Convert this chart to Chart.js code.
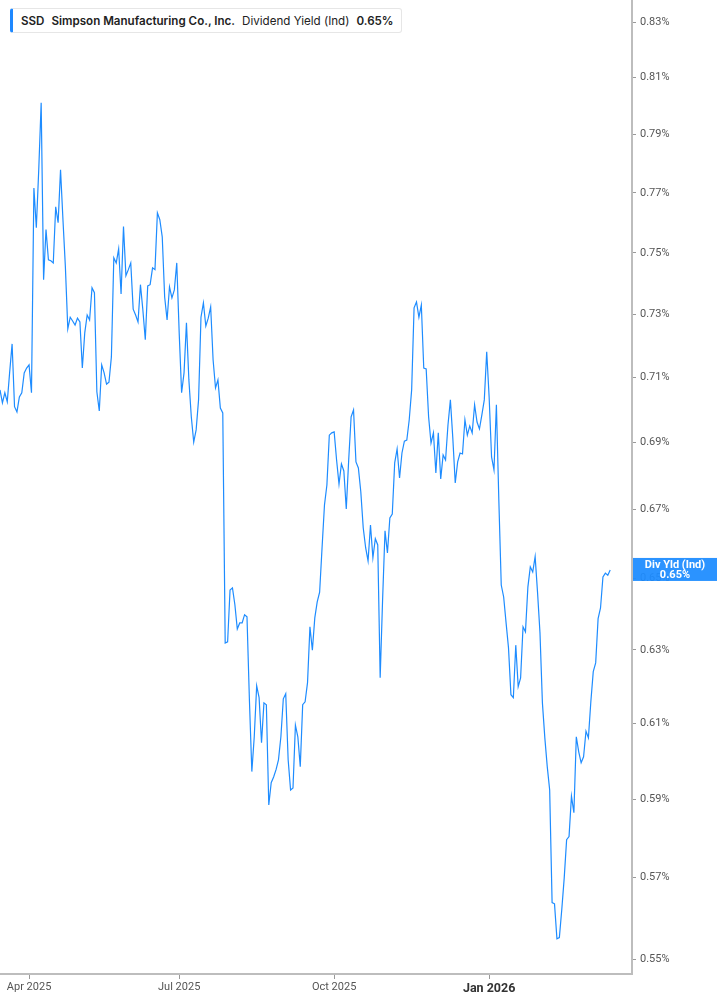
<!DOCTYPE html>
<html>
<head>
<meta charset="utf-8">
<script src="https://cdn.jsdelivr.net/npm/chart.js@4"></script>
<style>
  html, body { margin: 0; padding: 0; background: #fff; }
  #wrap { position: relative; width: 717px; height: 1005px; }
  #legend {
    position: absolute; left: 10px; top: 8px; height: 25px;
    padding: 0 7px 0 8px; box-sizing: border-box;
    border: 1px solid #e6e6e6; border-left: 3px solid #1e88ff; border-radius: 3px;
    background: #fff; font-family: Inter, "Noto Sans", sans-serif; font-size: 11.6px;
    color: #222; display: flex; align-items: center; white-space: nowrap;
  }
  #legend b { font-weight: 600; }
  #legend span { margin-right: 7px; }
</style>
</head>
<body>
<div id="wrap">
  <canvas id="chart"></canvas>
  <div id="legend">
    <span><b>SSD</b></span>
    <span><b>Simpson Manufacturing Co., Inc.</b></span>
    <span>Dividend Yield (Ind)</span>
    <b>0.65%</b>
  </div>
</div>
<script>
// dividend yield (%) per trading day, mid Mar 2025 -> early Mar 2026
const yieldValues = [
  0.7062, 0.7022, 0.7053, 0.7025, 0.7118, 0.7206, 0.7010, 0.6994, 0.7040, 0.7053,
  0.7115, 0.7130, 0.7140, 0.7053, 0.7717, 0.7583, 0.7779, 0.8011, 0.7412, 0.7577,
  0.7477, 0.7474, 0.7467, 0.7653, 0.7600, 0.7779, 0.7610, 0.7454, 0.7254, 0.7291,
  0.7279, 0.7266, 0.7288, 0.7276, 0.7130, 0.7241, 0.7298, 0.7282, 0.7386, 0.7370,
  0.7056, 0.6997, 0.7140, 0.7115, 0.7080, 0.7086, 0.7165, 0.7484, 0.7467, 0.7513,
  0.7366, 0.7587, 0.7425, 0.7445, 0.7467, 0.7317, 0.7298, 0.7276, 0.7396, 0.7314,
  0.7219, 0.7392, 0.7396, 0.7451, 0.7445, 0.7633, 0.7610, 0.7553, 0.7356, 0.7282,
  0.7389, 0.7353, 0.7379, 0.7467, 0.7241, 0.7053, 0.7115, 0.7273, 0.7093, 0.6979,
  0.6902, 0.6939, 0.7031, 0.7291, 0.7337, 0.7263, 0.7288, 0.7324, 0.7156, 0.7068,
  0.7093, 0.7006, 0.6991, 0.6319, 0.6322, 0.6468, 0.6474, 0.6426, 0.6358, 0.6375,
  0.6375, 0.6398, 0.6392, 0.6163, 0.5972, 0.6064, 0.6201, 0.6169, 0.6048, 0.6155,
  0.6150, 0.5885, 0.5943, 0.5958, 0.5977, 0.6003, 0.6064, 0.6166, 0.6180, 0.6003,
  0.5924, 0.5929, 0.6095, 0.6064, 0.5985, 0.6150, 0.6158, 0.6210, 0.6364, 0.6299,
  0.6389, 0.6434, 0.6462, 0.6589, 0.6714, 0.6773, 0.6923, 0.6930, 0.6933, 0.6848,
  0.6776, 0.6836, 0.6815, 0.6702, 0.6848, 0.6979, 0.7000, 0.6842, 0.6824, 0.6753,
  0.6647, 0.6589, 0.6551, 0.6655, 0.6560, 0.6615, 0.6597, 0.6223, 0.6440, 0.6638,
  0.6574, 0.6676, 0.6687, 0.6839, 0.6881, 0.6794, 0.6869, 0.6905, 0.6908, 0.6970,
  0.7062, 0.7321, 0.7340, 0.7291, 0.7330, 0.7130, 0.7127, 0.6979, 0.6899, 0.6930,
  0.6809, 0.6930, 0.6791, 0.6863, 0.6848, 0.6954, 0.7031, 0.6914, 0.6779, 0.6842,
  0.6869, 0.6866, 0.6970, 0.6923, 0.6951, 0.6930, 0.7016, 0.6963, 0.6942, 0.6985,
  0.7031, 0.7181, 0.7040, 0.6857, 0.6818, 0.7016, 0.6729, 0.6482, 0.6448, 0.6375,
  0.6305, 0.6177, 0.6169, 0.6313, 0.6199, 0.6223, 0.6364, 0.6350, 0.6476, 0.6534,
  0.6519, 0.6563, 0.6460, 0.6347, 0.6155, 0.6061, 0.5985, 0.5924, 0.5638, 0.5635,
  0.5549, 0.5552, 0.5621, 0.5699, 0.5796, 0.5804, 0.5908, 0.5865, 0.6064, 0.6024,
  0.5995, 0.6011, 0.6079, 0.6061, 0.6158, 0.6240, 0.6264, 0.6387, 0.6417, 0.6505,
  0.6516, 0.6510, 0.6525
];

// trading-day index of each month tick
const monthTickIndex = [12, 74, 138, 202];
const monthTickLabels = ['Apr 2025', 'Jul 2025', 'Oct 2025', 'Jan 2026'];

const yieldTicks = [0.55, 0.57, 0.59, 0.61, 0.63, 0.65, 0.67, 0.69, 0.71, 0.73, 0.75, 0.77, 0.79, 0.81, 0.83];

const currentYield = 0.65;
const lineBlue = '#1e8cff';

// blue value tag on the right axis
const lastValueTag = {
    id: 'lastValueTag',
    afterDraw(chart) {
        const ctx = chart.ctx;
        const ys = chart.scales.y;
        const last = yieldValues[yieldValues.length - 1];
        const py = ys.getPixelForValue(last);
        const left = chart.chartArea.right + 1;
        const w = chart.width - left;
        ctx.save();
        ctx.fillStyle = 'rgba(30,140,255,0.94)';
        ctx.fillRect(left, py - 12, w, 23);
        ctx.fillStyle = '#fff';
        ctx.font = 'bold 11px Roboto, sans-serif';
        ctx.textAlign = 'center';
        ctx.textBaseline = 'middle';
        ctx.fillText('Div Yld (Ind)', left + w / 2, py - 5);
        ctx.fillText(currentYield.toFixed(2) + '%', left + w / 2, py + 5);
        ctx.restore();
    }
};

const ctx = document.getElementById('chart').getContext('2d');
window.yieldChart = new Chart(ctx, {
    type: 'line',
    data: {
        datasets: [{
            data: yieldValues.map((v, i) => ({ x: i, y: v })),
            borderColor: lineBlue,
            borderWidth: 1.2,
            pointRadius: 0,
            tension: 0,
            fill: false,
            clip: false,
        }]
    },
    options: {
        responsive: true,
        maintainAspectRatio: false,
        animation: false,
        layout: { padding: 0 },
        plugins: {
            legend: { display: false },
            tooltip: { enabled: false },
        },
        scales: {
            x: {
                type: 'linear',
                min: 0,
                max: 261,
                afterBuildTicks: (scale) => {
                    scale.ticks = monthTickIndex.map((v) => ({ value: v }));
                },
                afterFit: (scale) => {
                    scale.height = 31;
                    scale.paddingLeft = 0;
                    scale.paddingRight = 0;
                },
                grid: {
                    drawOnChartArea: false,
                    drawTicks: true,
                    tickLength: 5,
                    tickColor: '#999',
                },
                border: { display: true, color: '#bdbdbd', width: 2 },
                ticks: {
                    autoSkip: false,
                    maxRotation: 0,
                    padding: 2,
                    callback: (val, i) => monthTickLabels[i],
                    color: (c) => c.tick && c.tick.label === 'Jan 2026' ? '#333' : '#555',
                    font: (c) => c.tick && c.tick.label === 'Jan 2026'
                        ? { family: 'Roboto', size: 12.5, weight: 'bold' }
                        : { family: 'Roboto', size: 11 },
                }
            },
            y: {
                type: 'logarithmic',
                position: 'right',
                min: 0.5464,
                max: 0.8381,
                afterBuildTicks: (scale) => {
                    scale.ticks = yieldTicks.map((v) => ({ value: v }));
                },
                afterFit: (scale) => {
                    scale.width = 85;
                    scale.paddingTop = 0;
                    scale.paddingBottom = 0;
                },
                grid: {
                    drawOnChartArea: false,
                    drawTicks: true,
                    tickLength: 4,
                    tickColor: '#999',
                },
                border: { display: true, color: '#bdbdbd', width: 2 },
                ticks: {
                    padding: 4,
                    color: '#555',
                    font: { family: 'Roboto', size: 11 },
                    callback: (val) => Number(val).toFixed(2) + '%',
                }
            }
        }
    },
    plugins: [lastValueTag]
});
</script>
</body>
</html>
